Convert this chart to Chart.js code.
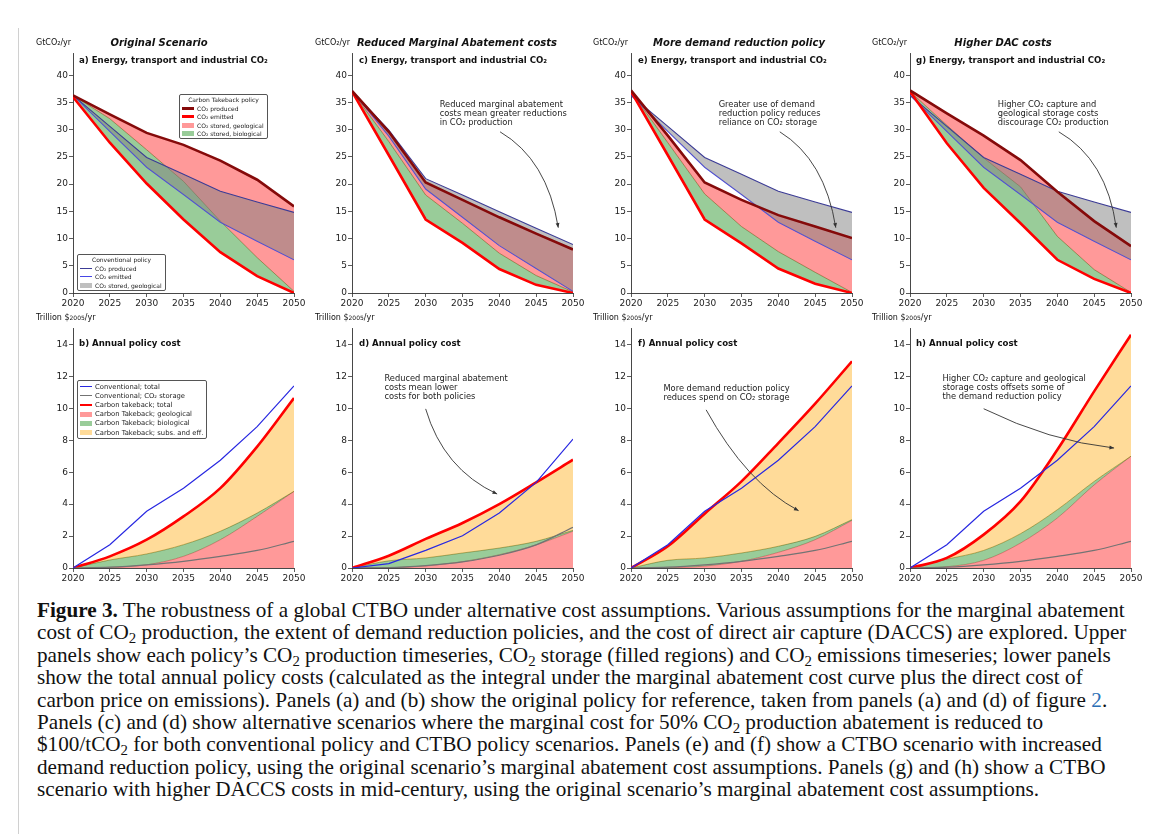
<!DOCTYPE html>
<html>
<head>
<meta charset="utf-8">
<script src="https://cdn.jsdelivr.net/npm/chart.js@4.4.0/dist/chart.umd.min.js"></script>
<style>
  body { margin: 0; width: 1152px; height: 834px; background: #fff; position: relative; overflow: hidden;
         font-family: "DejaVu Sans", sans-serif; color: #111; }
  canvas { position: absolute; }
  .txt { position: absolute; white-space: nowrap; }
  .unit { font-size: 8px; line-height: 10px; }
  .scen { font-size: 10px; font-weight: bold; font-style: italic; line-height: 14px; transform: translateX(-50%); }
  .plab { font-size: 8.6px; font-weight: bold; line-height: 10px; }
  .leg { position: absolute; border: 1px solid #555; border-radius: 2px; background: rgba(255,255,255,0.85);
         box-sizing: border-box; padding: 1px 2px; white-space: nowrap; color: #222; }
  .leg .lt { text-align: center; }
  .leg .lr { display: flex; align-items: center; }
  .leg .ln { display: block; flex: none; width: 12px; margin-right: 3px; }
  .leg .pt { display: block; flex: none; width: 12px; height: 5px; margin-right: 3px; }
  #frame { position: absolute; left: 18px; top: 28px; width: 1200px; height: 900px; border-left: 1px solid #d0d0d0; }
  #cap { position: absolute; left: 37px; top: 599px; font-family: "Liberation Serif", serif; font-size: 21.2px;
         line-height: 22.4px; color: #111; white-space: nowrap; }
  #cap sub { font-size: 0.7em; vertical-align: -0.25em; line-height: 0; }
  #cap .ref { color: #2a6eb5; }
</style>
</head>
<body>
<div id="frame"></div>

<div id="cap">
<div><b>Figure 3.</b> The robustness of a global CTBO under alternative cost assumptions. Various assumptions for the marginal abatement</div>
<div>cost of CO<sub>2</sub> production, the extent of demand reduction policies, and the cost of direct air capture (DACCS) are explored. Upper</div>
<div>panels show each policy’s CO<sub>2</sub> production timeseries, CO<sub>2</sub> storage (filled regions) and CO<sub>2</sub> emissions timeseries; lower panels</div>
<div>show the total annual policy costs (calculated as the integral under the marginal abatement cost curve plus the direct cost of</div>
<div>carbon price on emissions). Panels (a) and (b) show the original policy for reference, taken from panels (a) and (d) of figure <span class="ref">2</span>.</div>
<div>Panels (c) and (d) show alternative scenarios where the marginal cost for 50% CO<sub>2</sub> production abatement is reduced to</div>
<div>$100/tCO<sub>2</sub> for both conventional policy and CTBO policy scenarios. Panels (e) and (f) show a CTBO scenario with increased</div>
<div>demand reduction policy, using the original scenario’s marginal abatement cost assumptions. Panels (g) and (h) show a CTBO</div>
<div>scenario with higher DACCS costs in mid-century, using the original scenario’s marginal abatement cost assumptions.</div>
</div>

<script>
// ---- shared axes ----
const years = [2020, 2025, 2030, 2035, 2040, 2045, 2050];
const xTicks = [2020, 2025, 2030, 2035, 2040, 2045, 2050];
const emisTicks = [0, 5, 10, 15, 20, 25, 30, 35, 40];
const costTicks = [0, 2, 4, 6, 8, 10, 12, 14];

// ---- top row: GtCO2/yr ----
// conventional policy (same in a, e, g)
const convProduced = [36.3, 30.6, 24.9, 21.8, 18.7, 16.7, 14.8];
const convEmitted = [36.3, 29.7, 23.1, 18.1, 13.0, 9.5, 6.1];

// a) original scenario
const aCtbProduced = [36.3, 32.8, 29.4, 27.2, 24.3, 20.8, 15.9];
const aCtbEmitted = [36.0, 27.6, 20.1, 13.5, 7.5, 3.1, 0.0];
const aBioTop = [36.3, 32.0, 26.3, 20.5, 13.2, 6.5, 0.3];

// c) reduced marginal abatement costs
const cCtbProduced = [37.1, 29.6, 20.3, 17.1, 13.9, 10.9, 8.0];
const cCtbEmitted = [37.0, 25.3, 13.5, 9.2, 4.4, 1.5, 0.0];
const cBioTop = [37.0, 27.8, 18.0, 12.8, 7.3, 3.2, 0.2];
const cConvProduced = [37.1, 29.9, 21.0, 18.0, 14.9, 11.9, 8.9];
const cConvEmitted = [37.1, 28.8, 19.1, 13.9, 8.7, 4.5, 0.3];

// e) more demand reduction policy
const eCtbProduced = [37.2, 28.9, 20.3, 17.1, 14.3, 12.2, 10.1];
const eCtbEmitted = [37.0, 25.3, 13.5, 9.1, 4.5, 1.7, 0.0];
const eBioTop = [37.0, 27.6, 18.2, 12.2, 7.6, 3.8, 0.1];

// g) higher DAC costs
const gCtbProduced = [37.2, 33.0, 28.9, 24.4, 18.6, 13.2, 8.6];
const gCtbEmitted = [37.0, 27.5, 19.3, 12.8, 6.1, 2.6, 0.0];
const gBioTop = [37.0, 30.8, 24.8, 19.5, 10.4, 4.3, 0.1];

// ---- bottom row: trillion $2005/yr ----
const convTotal = [0, 1.46, 3.55, 5.0, 6.75, 8.85, 11.4];
const convStorage = [0, 0.05, 0.2, 0.42, 0.73, 1.1, 1.67];

const bCtbTotal = [0, 0.73, 1.77, 3.23, 5.0, 7.6, 10.64];
const bBioTop = [0, 0.5, 0.88, 1.46, 2.3, 3.44, 4.8];
const bGeoTop = [0, 0.03, 0.2, 0.73, 1.77, 3.23, 4.8];

const dConvTotal = [0, 0.27, 1.1, 2.02, 3.44, 5.36, 8.07];
const dConvStorage = [0, 0.02, 0.15, 0.38, 0.8, 1.45, 2.55];
const dCtbTotal = [0, 0.77, 1.82, 2.82, 4.0, 5.36, 6.78];
const dBioTop = [0, 0.45, 0.63, 0.94, 1.25, 1.67, 2.36];
const dGeoTop = [0, 0.02, 0.12, 0.4, 0.83, 1.45, 2.3];

const fCtbTotal = [0, 1.36, 3.4, 5.42, 7.82, 10.29, 12.94];
const fBioTop = [0, 0.48, 0.63, 0.94, 1.36, 1.98, 3.03];
const fGeoTop = [0, 0.02, 0.12, 0.42, 0.98, 1.77, 2.98];

const hCtbTotal = [0, 0.63, 2.09, 4.17, 7.4, 11.06, 14.6];
const hBioTop = [0, 0.55, 1.1, 2.15, 3.65, 5.42, 7.0];
const hGeoTop = [0, 0.08, 0.48, 1.56, 3.13, 5.2, 7.0];

// ---- colours ----
const MAROON = "#850a0a";
const RED = "#ff0000";
const CONV_PROD = "rgb(60,60,150)";
const CONV_EMIT = "rgb(70,70,230)";
const CONV_TOTAL = "rgb(40,40,225)";
const CONV_STORE = "rgb(115,115,115)";
const PINK = "rgba(255,0,0,0.4)";
const GREEN = "rgba(0,128,0,0.4)";
const ORANGE = "rgba(255,165,0,0.4)";
const GREY = "rgba(128,128,128,0.5)";

const pts = (arr) => years.map((x, i) => ({ x, y: arr[i] }));

// annotation text + curved arrow, in data coordinates
const notePlugin = {
  id: "note",
  afterDatasetsDraw(chart, args, opts) {
    if (!opts || !opts.lines) return;
    const { ctx } = chart;
    const x = chart.scales.x, y = chart.scales.y;
    const px = (p) => [x.getPixelForValue(p[0]), y.getPixelForValue(p[1])];
    ctx.save();
    ctx.font = '8.3px "DejaVu Sans"';
    ctx.fillStyle = "#222";
    ctx.textBaseline = "top";
    const [tx, ty] = px(opts.at);
    opts.lines.forEach((t, i) => ctx.fillText(t, tx, ty + i * 9));

    const a = px(opts.from), m = px(opts.via), b = px(opts.to);
    ctx.strokeStyle = "#333";
    ctx.lineWidth = 0.9;
    ctx.beginPath();
    ctx.moveTo(a[0], a[1]);
    ctx.quadraticCurveTo(m[0], m[1], b[0], b[1]);
    ctx.stroke();
    // arrow head
    const ang = Math.atan2(b[1] - m[1], b[0] - m[0]);
    ctx.fillStyle = "#333";
    ctx.beginPath();
    ctx.moveTo(b[0], b[1]);
    ctx.lineTo(b[0] - 5 * Math.cos(ang - 0.4), b[1] - 5 * Math.sin(ang - 0.4));
    ctx.lineTo(b[0] - 5 * Math.cos(ang + 0.4), b[1] - 5 * Math.sin(ang + 0.4));
    ctx.closePath();
    ctx.fill();
    ctx.restore();
  },
};

function makePanel(box, yMax, yTicks, datasets, note) {
  const padL = 45, padT = 6, padR = 16, padB = 20;
  const c = document.createElement("canvas");
  c.width = box.r - box.l + padL + padR;
  c.height = box.b - box.t + padT + padB;
  c.style.left = box.l - padL + "px";
  c.style.top = box.t - padT + "px";
  document.body.appendChild(c);

  const axisCommon = {
    grid: { display: true, drawOnChartArea: false, drawTicks: true, tickLength: 4, color: "#333", tickWidth: 0.8 },
    border: { display: true, color: "#333", width: 0.9 },
    ticks: { color: "#222", font: { family: "DejaVu Sans", size: 9 }, padding: 1, maxRotation: 0, autoSkip: false },
  };

  new Chart(c, {
    type: "line",
    data: { datasets },
    options: {
      responsive: false,
      animation: false,
      events: [],
      layout: { padding: { top: padT, right: padR, left: 0, bottom: 0 } },
      elements: { point: { radius: 0 } },
      plugins: { legend: { display: false }, tooltip: { enabled: false }, note: note || {} },
      scales: {
        x: {
          ...axisCommon,
          type: "linear",
          min: 2020,
          max: 2050,
          afterBuildTicks: (s) => { s.ticks = xTicks.map((v) => ({ value: v })); },
          afterFit: (s) => { s.height = padB; },
          ticks: { ...axisCommon.ticks, callback: (v) => String(v) },
        },
        y: {
          ...axisCommon,
          min: 0,
          max: yMax,
          afterBuildTicks: (s) => { s.ticks = yTicks.map((v) => ({ value: v })); },
          afterFit: (s) => { s.width = padL; },
        },
      },
    },
    plugins: [notePlugin],
  });
}

// top row datasets: 0 ctb produced, 1 ctb emitted, 2 conv produced (grey fill), 3 conv emitted,
// 4 geological region (pink), 5 biological top (green fill down to emitted)
function emissionSets(ctbProd, ctbEmit, bioTop, cProd, cEmit) {
  return [
    { data: pts(ctbProd), borderColor: MAROON, borderWidth: 2.6, fill: false, tension: 0 },
    { data: pts(ctbEmit), borderColor: RED, borderWidth: 2.6, fill: false, tension: 0 },
    { data: pts(cProd), borderColor: CONV_PROD, borderWidth: 1.1, fill: { target: 3 }, backgroundColor: GREY, tension: 0 },
    { data: pts(cEmit), borderColor: CONV_EMIT, borderWidth: 1.1, fill: false, tension: 0 },
    { data: pts(ctbProd), borderWidth: 0, borderColor: "rgba(0,0,0,0)", fill: { target: 5 }, backgroundColor: PINK, tension: 0 },
    { data: pts(bioTop), borderWidth: 0.7, borderColor: "rgba(95,115,40,0.9)", fill: { target: 1 }, backgroundColor: GREEN, tension: 0 },
  ];
}

// bottom row datasets: 0 conv total, 1 conv storage, 2 ctb total (orange fill), 3 bio top, 4 geo top
function costSets(cTotal, cStore, ctbTotal, bioTop, geoTop) {
  return [
    { data: pts(cTotal), borderColor: CONV_TOTAL, borderWidth: 1.2, fill: false, tension: 0 },
    { data: pts(cStore), borderColor: CONV_STORE, borderWidth: 1.2, fill: false, cubicInterpolationMode: "monotone" },
    { data: pts(ctbTotal), borderColor: RED, borderWidth: 2.6, fill: { target: 3 }, backgroundColor: ORANGE, cubicInterpolationMode: "monotone" },
    { data: pts(bioTop), borderColor: "rgba(95,115,40,0.9)", borderWidth: 0.7, fill: { target: 4 }, backgroundColor: GREEN, cubicInterpolationMode: "monotone" },
    { data: pts(geoTop), borderColor: "rgba(190,60,60,0.8)", borderWidth: 0.6, fill: "origin", backgroundColor: PINK, cubicInterpolationMode: "monotone" },
  ];
}

const topBoxes = { a: { l: 73, r: 294 }, c: { l: 352, r: 573 }, e: { l: 631, r: 852 }, g: { l: 910, r: 1131 } };
const TOP_T = 53, TOP_B = 293, BOT_T = 328, BOT_B = 568;

makePanel({ ...topBoxes.a, t: TOP_T, b: TOP_B }, 44, emisTicks,
  emissionSets(aCtbProduced, aCtbEmitted, aBioTop, convProduced, convEmitted));
makePanel({ ...topBoxes.c, t: TOP_T, b: TOP_B }, 44, emisTicks,
  emissionSets(cCtbProduced, cCtbEmitted, cBioTop, cConvProduced, cConvEmitted),
  { lines: ["Reduced marginal abatement", "costs mean greater reductions", "in CO₂ production"],
    at: [2031.9, 35.3], from: [2040.1, 29.6], via: [2046.5, 24.5], to: [2048.0, 12.0] });
makePanel({ ...topBoxes.e, t: TOP_T, b: TOP_B }, 44, emisTicks,
  emissionSets(eCtbProduced, eCtbEmitted, eBioTop, convProduced, convEmitted),
  { lines: ["Greater use of demand", "reduction policy reduces", "reliance on CO₂ storage"],
    at: [2031.9, 35.3], from: [2040.2, 29.6], via: [2046.3, 24.5], to: [2047.8, 12.0] });
makePanel({ ...topBoxes.g, t: TOP_T, b: TOP_B }, 44, emisTicks,
  emissionSets(gCtbProduced, gCtbEmitted, gBioTop, convProduced, convEmitted),
  { lines: ["Higher CO₂ capture and", "geological storage costs", "discourage CO₂ production"],
    at: [2031.9, 35.3], from: [2040.2, 29.6], via: [2046.7, 24.5], to: [2048.0, 12.0] });

makePanel({ ...topBoxes.a, t: BOT_T, b: BOT_B }, 15, costTicks,
  costSets(convTotal, convStorage, bCtbTotal, bBioTop, bGeoTop));
makePanel({ ...topBoxes.c, t: BOT_T, b: BOT_B }, 15, costTicks,
  costSets(dConvTotal, dConvStorage, dCtbTotal, dBioTop, dGeoTop),
  { lines: ["Reduced marginal abatement", "costs mean lower", "costs for both policies"],
    at: [2024.4, 12.1], from: [2030.0, 9.96], via: [2032.4, 6.2], to: [2039.7, 4.63] });
makePanel({ ...topBoxes.e, t: BOT_T, b: BOT_B }, 15, costTicks,
  costSets(convTotal, convStorage, fCtbTotal, fBioTop, fGeoTop),
  { lines: ["More demand reduction policy", "reduces spend on CO₂ storage"],
    at: [2024.4, 11.5], from: [2030.2, 9.9], via: [2035.7, 5.3], to: [2042.75, 3.59] });
makePanel({ ...topBoxes.g, t: BOT_T, b: BOT_B }, 15, costTicks,
  costSets(convTotal, convStorage, hCtbTotal, hBioTop, hGeoTop),
  { lines: ["Higher CO₂ capture and geological", "storage costs offsets some of", "the demand reduction policy"],
    at: [2024.4, 12.1], from: [2030.0, 9.97], via: [2038.9, 7.95], to: [2047.7, 7.51] });

// ---- titles and labels ----
function addText(cls, left, top, html) {
  const d = document.createElement("div");
  d.className = "txt " + cls;
  d.style.left = left + "px";
  d.style.top = top + "px";
  d.innerHTML = html;
  document.body.appendChild(d);
}

const scenarioTitles = ["Original Scenario", "Reduced Marginal Abatement costs", "More demand reduction policy", "Higher DAC costs"];
const scenarioCentres = [159, 457, 739, 1003];
const unitLefts = [36, 315, 593, 872];
const topLabels = ["a)", "c)", "e)", "g)"];
const botLabels = ["b)", "d)", "f)", "h)"];
const labelLefts = [79, 359, 638, 916];

scenarioTitles.forEach((t, i) => addText("scen", scenarioCentres[i], 36, t));
unitLefts.forEach((l) => addText("unit", l, 38, "GtCO₂/yr"));
unitLefts.forEach((l) => addText("unit", l, 313, "Trillion $<span style='font-size:6px'>2005</span>/yr"));
topLabels.forEach((t, i) => addText("plab", labelLefts[i], 55, t + " Energy, transport and industrial CO₂"));
botLabels.forEach((t, i) => addText("plab", labelLefts[i], 338, t + " Annual policy cost"));

// ---- legends ----
function legend(left, top, width, fs, rowH, title, items) {
  const d = document.createElement("div");
  d.className = "leg";
  d.style.left = left + "px";
  d.style.top = top + "px";
  d.style.width = width + "px";
  d.style.fontSize = fs + "px";
  let html = title ? `<div class="lt" style="height:${rowH}px;line-height:${rowH}px">${title}</div>` : "";
  items.forEach(([kind, color, label, thick]) => {
    const sw = kind === "ln"
      ? `<span class="ln" style="height:${thick}px;background:${color}"></span>`
      : `<span class="pt" style="background:${color}"></span>`;
    html += `<div class="lr" style="height:${rowH}px">${sw}${label}</div>`;
  });
  d.innerHTML = html;
  document.body.appendChild(d);
}

legend(179, 94, 89, 6, 8.3, "Carbon Takeback policy", [
  ["ln", MAROON, "CO₂ produced", 2.5],
  ["ln", RED, "CO₂ emitted", 2.5],
  ["pt", PINK, "CO₂ stored, geological"],
  ["pt", GREEN, "CO₂ stored, biological"],
]);
legend(77, 254, 89, 6, 8.3, "Conventional policy", [
  ["ln", CONV_PROD, "CO₂ produced", 1.2],
  ["ln", CONV_EMIT, "CO₂ emitted", 1.2],
  ["pt", GREY, "CO₂ stored, geological"],
]);
legend(77, 380, 130, 6.8, 9.2, "", [
  ["ln", CONV_TOTAL, "Conventional; total", 1.3],
  ["ln", CONV_STORE, "Conventional; CO₂ storage", 1.3],
  ["ln", RED, "Carbon takeback; total", 2.2],
  ["pt", PINK, "Carbon Takeback; geological"],
  ["pt", GREEN, "Carbon Takeback; biological"],
  ["pt", ORANGE, "Carbon Takeback; subs. and eff."],
]);
</script>
</body>
</html>
